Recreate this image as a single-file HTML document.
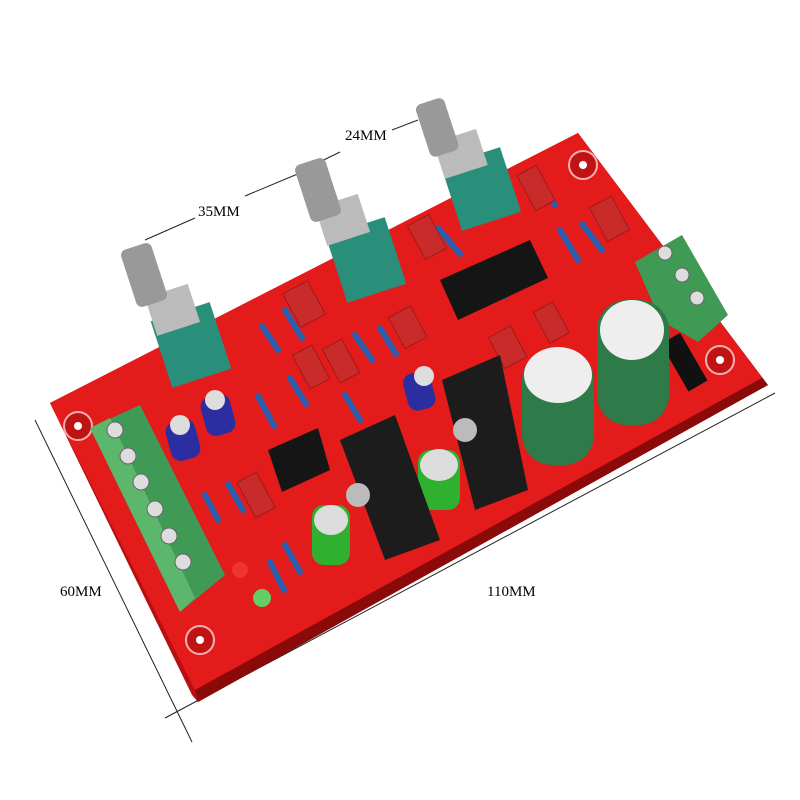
<!DOCTYPE html>
<html><head><meta charset="utf-8"><style>
html,body{margin:0;padding:0;background:#fff;}
svg{display:block;}
text{font-family:"Liberation Serif",serif;}
</style></head><body>
<svg width="800" height="800" viewBox="0 0 800 800" xmlns="http://www.w3.org/2000/svg">
<!-- dimension lines -->
<g stroke="#222" stroke-width="1" fill="none">
<line x1="35" y1="420" x2="192" y2="742"/>
<line x1="165" y1="718" x2="775" y2="393"/>
<line x1="145" y1="240" x2="195" y2="218"/>
<line x1="245" y1="196" x2="300" y2="173"/>
<line x1="303" y1="170" x2="340" y2="152"/>
<line x1="392" y1="130" x2="418" y2="120"/>
</g>
<text x="60" y="596" font-size="15">60MM</text>
<text x="487" y="596" font-size="15">110MM</text>
<text x="198" y="216" font-size="15">35MM</text>
<text x="345" y="140" font-size="15">24MM</text>
<!-- board -->
<polygon points="50,403 578,133 768,385 198,702 192,695" fill="#b81010"/>
<polygon points="50,403 578,133 762,378 195,690" fill="#e31b1b"/>
<polygon points="195,690 762,378 768,385 198,702" fill="#8a0a0a"/>
<!-- mounting holes -->
<g fill="#c01414" stroke="#f5b0b0" stroke-width="2">
<circle cx="78" cy="426" r="14"/><circle cx="200" cy="640" r="14"/>
<circle cx="583" cy="165" r="14"/><circle cx="720" cy="360" r="14"/>
</g>
<g fill="#fff"><circle cx="78" cy="426" r="4"/><circle cx="200" cy="640" r="4"/><circle cx="583" cy="165" r="4"/><circle cx="720" cy="360" r="4"/></g>
<!-- left terminal block -->
<polygon points="90,428 140,405 225,575 180,612" fill="#3f9a55"/>
<polygon points="90,428 110,418 195,598 180,612" fill="#5cb66c"/>
<g fill="#ddd" stroke="#666">
<circle cx="115" cy="430" r="8"/><circle cx="128" cy="456" r="8"/><circle cx="141" cy="482" r="8"/>
<circle cx="155" cy="509" r="8"/><circle cx="169" cy="536" r="8"/><circle cx="183" cy="562" r="8"/>
</g>
<!-- right terminal block -->
<polygon points="635,262 682,235 728,315 698,342 660,320" fill="#3f9a55"/>
<g fill="#ddd" stroke="#666"><circle cx="665" cy="253" r="7"/><circle cx="682" cy="275" r="7"/><circle cx="697" cy="298" r="7"/></g>
<rect x="672" y="335" width="22" height="55" fill="#111" transform="rotate(-30 683 360)"/>
<!-- resistors -->
<g stroke="#2a5fb0" stroke-width="6" stroke-linecap="round">
<line x1="262" y1="326" x2="278" y2="350"/><line x1="285" y1="310" x2="302" y2="338"/>
<line x1="258" y1="396" x2="274" y2="426"/><line x1="290" y1="378" x2="306" y2="404"/>
<line x1="355" y1="335" x2="372" y2="360"/><line x1="380" y1="328" x2="396" y2="354"/>
<line x1="438" y1="228" x2="460" y2="254"/><line x1="560" y1="230" x2="578" y2="260"/>
<line x1="582" y1="224" x2="602" y2="250"/><line x1="535" y1="177" x2="555" y2="205"/>
<line x1="205" y1="495" x2="218" y2="520"/><line x1="228" y1="484" x2="243" y2="510"/>
<line x1="270" y1="562" x2="284" y2="590"/><line x1="285" y1="545" x2="300" y2="572"/>
<line x1="345" y1="395" x2="360" y2="420"/><line x1="490" y1="270" x2="505" y2="296"/>
</g>
<!-- red film caps -->
<g fill="#c92a2a" stroke="#a01a1a">
<rect x="290" y="285" width="28" height="38" transform="rotate(-28 304 304)"/>
<rect x="300" y="348" width="22" height="38" transform="rotate(-28 311 367)"/>
<rect x="330" y="342" width="22" height="38" transform="rotate(-28 341 361)"/>
<rect x="395" y="310" width="25" height="35" transform="rotate(-28 407 327)"/>
<rect x="415" y="218" width="24" height="38" transform="rotate(-28 427 237)"/>
<rect x="525" y="168" width="22" height="40" transform="rotate(-28 536 188)"/>
<rect x="597" y="200" width="25" height="38" transform="rotate(-28 609 219)"/>
<rect x="495" y="330" width="25" height="35" transform="rotate(-28 507 347)"/>
<rect x="540" y="305" width="22" height="35" transform="rotate(-28 551 322)"/>
<rect x="245" y="475" width="22" height="40" transform="rotate(-28 256 495)"/>
</g>
<!-- ICs -->
<polygon points="440,280 530,240 548,278 458,320" fill="#151515"/>
<polygon points="268,450 318,428 330,470 282,492" fill="#151515"/>
<!-- small caps -->
<g><rect x="168" y="420" width="30" height="40" rx="10" fill="#2a2ea0" transform="rotate(-15 183 440)"/><circle cx="180" cy="425" r="10" fill="#ddd"/>
<rect x="203" y="395" width="30" height="40" rx="10" fill="#2a2ea0" transform="rotate(-15 218 415)"/><circle cx="215" cy="400" r="10" fill="#ddd"/>
<rect x="405" y="372" width="28" height="38" rx="10" fill="#2a2ea0" transform="rotate(-15 419 390)"/><circle cx="424" cy="376" r="10" fill="#ddd"/>
<rect x="312" y="505" width="38" height="60" rx="12" fill="#2fb02f"/><ellipse cx="331" cy="520" rx="17" ry="15" fill="#ddd"/>
<rect x="418" y="450" width="42" height="60" rx="12" fill="#2fb02f"/><ellipse cx="439" cy="465" rx="19" ry="16" fill="#ddd"/>
</g>
<!-- heatsinks -->
<polygon points="340,440 395,415 440,540 385,560" fill="#1c1c1c"/>
<polygon points="442,380 500,355 528,490 475,510" fill="#1c1c1c"/>
<circle cx="358" cy="495" r="12" fill="#bbb"/><circle cx="465" cy="430" r="12" fill="#bbb"/>
<!-- big caps -->
<rect x="522" y="350" width="72" height="115" rx="30" fill="#2e7a48"/>
<ellipse cx="558" cy="375" rx="34" ry="28" fill="#eee"/>
<rect x="597" y="300" width="72" height="125" rx="30" fill="#2e7a48"/>
<ellipse cx="632" cy="330" rx="32" ry="30" fill="#eee"/>
<!-- pots -->
<g>
<rect x="160" y="310" width="62" height="70" fill="#2a8f7a" transform="rotate(-18 191 345)"/>
<rect x="150" y="290" width="45" height="40" fill="#bbb" transform="rotate(-18 172 310)"/>
<rect x="128" y="245" width="32" height="60" rx="6" fill="#999" transform="rotate(-18 144 275)"/>
<rect x="335" y="225" width="62" height="70" fill="#2a8f7a" transform="rotate(-18 366 260)"/>
<rect x="320" y="200" width="45" height="40" fill="#bbb" transform="rotate(-18 342 220)"/>
<rect x="302" y="160" width="32" height="60" rx="6" fill="#999" transform="rotate(-18 318 190)"/>
<rect x="450" y="155" width="62" height="68" fill="#2a8f7a" transform="rotate(-18 481 189)"/>
<rect x="438" y="135" width="45" height="38" fill="#bbb" transform="rotate(-18 460 154)"/>
<rect x="422" y="100" width="30" height="55" rx="6" fill="#999" transform="rotate(-18 437 127)"/>
</g>
<!-- LEDs -->
<circle cx="240" cy="570" r="8" fill="#e33"/><circle cx="262" cy="598" r="9" fill="#6c6"/>
</svg>
</body></html>
